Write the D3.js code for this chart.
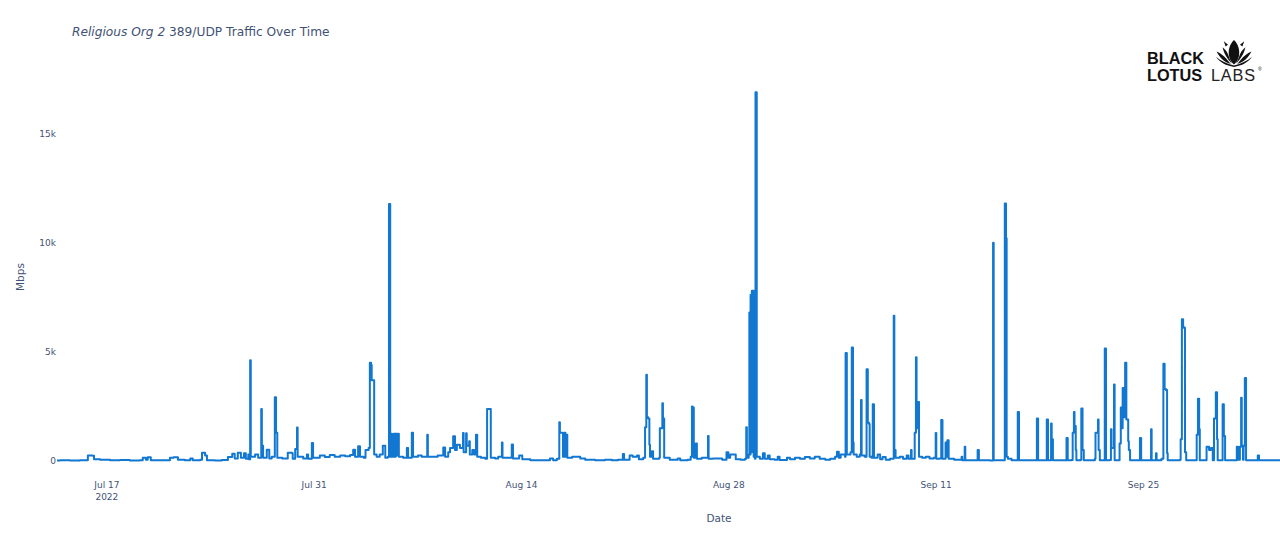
<!DOCTYPE html>
<html>
<head>
<meta charset="utf-8">
<script src="https://cdn.jsdelivr.net/npm/d3@7/dist/d3.min.js"></script>
<style>
  html, body { margin: 0; padding: 0; background: #fff; }
  svg { display: block; }
</style>
</head>
<body>
<svg id="chart" width="1280" height="539"></svg>
<script>
// ---- data (hour offsets from startTime, traffic in Mbps) ----
const startTime = Date.UTC(2022, 6, 13, 16);   // Jul 13 2022 16:00
const spanHours = 1982;
const hours = [
  0,5,21,37,49,50,58,60,70,86,102,118,134,139,144,147,152,167,183,189,196,207,216,220,232,235,240,243,256,267,277,284,288,293,298,303,306,310,311,313,314,321,326,331,332,334,340,344,348,353,355,357,365,374,381,382,386,389,390,399,405,407,413,415,426,434,442,450,459,467,475,480,483,488,491,497,500,505,507,509,510,512,514,518,523,528,532,536,538,540,541,543,546,548,549,551,553,554,561,567,569,575,577,585,591,600,601,609,617,626,629,634,637,642,645,648,653,658,659,663,664,668,669,673,676,679,681,687,694,697,702,703,710,715,721,722,729,737,739,749,754,767,783,799,804,810,814,815,819,820,822,824,825,827,835,841,848,856,872,888,899,909,917,919,928,933,940,943,950,953,955,956,958,960,961,964,966,976,977,981,982,984,993,1006,1010,1022,1027,1029,1030,1032,1035,1037,1045,1055,1056,1063,1071,1078,1085,1088,1091,1094,1099,1100,1108,1115,1117,1118,1121,1122,1123,1124,1125,1126,1127,1128,1129,1131,1132,1134,1139,1144,1147,1152,1155,1163,1168,1171,1183,1188,1196,1204,1212,1220,1228,1236,1245,1253,1261,1264,1267,1270,1275,1277,1278,1280,1283,1286,1288,1290,1291,1296,1301,1303,1304,1309,1312,1314,1316,1317,1320,1322,1324,1330,1334,1338,1343,1350,1356,1357,1359,1366,1371,1377,1380,1384,1385,1390,1392,1393,1395,1397,1402,1408,1414,1421,1424,1425,1430,1433,1435,1440,1441,1443,1445,1454,1466,1467,1471,1472,1482,1492,1494,1512,1517,1518,1528,1535,1536,1538,1539,1541,1547,1557,1559,1577,1588,1590,1603,1604,1606,1609,1611,1612,1614,1625,1636,1638,1644,1646,1648,1649,1651,1652,1659,1660,1662,1664,1674,1682,1683,1687,1688,1690,1697,1698,1700,1706,1708,1709,1713,1714,1721,1722,1724,1725,1727,1729,1731,1733,1736,1737,1739,1752,1755,1757,1771,1773,1774,1781,1782,1790,1793,1795,1797,1799,1800,1820,1821,1823,1825,1826,1828,1830,1846,1847,1849,1851,1852,1860,1863,1867,1870,1873,1875,1878,1880,1881,1888,1889,1891,1893,1911,1912,1914,1917,1919,1920,1922,1923,1925,1927,1928,1936,1946,1948,1949,1966,1982
];
const mbps = [
  20,30,20,40,30,250,240,80,60,30,50,20,40,150,60,170,40,30,150,170,60,40,120,40,60,380,250,40,20,50,180,330,120,380,150,350,100,300,80,4620,200,300,150,2380,700,150,520,120,200,2920,1300,150,120,380,350,100,550,1540,200,120,300,100,820,150,250,180,280,200,250,220,280,520,200,680,200,150,500,600,4500,4400,3700,3700,300,200,300,700,150,200,11780,200,1250,200,1250,200,1250,250,1250,200,150,600,150,1300,200,250,200,1200,200,200,250,620,200,400,600,1130,500,750,600,1280,400,1270,700,900,300,500,300,1200,200,150,100,2380,2380,150,120,200,850,150,150,760,120,250,80,40,30,120,40,100,1780,1300,1300,200,1300,200,1200,150,200,200,120,60,40,60,40,60,320,60,250,200,250,80,150,1550,3950,2000,1950,750,200,450,100,150,1500,2650,1950,150,60,120,40,60,200,2500,2450,150,800,100,150,1150,100,120,120,60,400,150,300,300,300,80,60,100,1550,150,300,6800,300,7600,400,7800,500,7800,200,100,16900,200,100,350,100,250,80,60,200,50,150,80,150,100,180,120,200,100,60,100,200,420,150,300,300,200,4950,300,300,400,5200,850,300,200,300,2800,250,200,4200,1750,1700,200,150,2600,150,300,80,180,60,100,6650,500,150,200,100,250,100,500,100,1300,4750,1500,2700,200,150,200,120,150,1280,100,120,1880,100,850,200,950,100,60,200,40,650,40,30,500,30,20,10000,40,40,40,11800,10200,200,100,30,2250,30,30,1950,30,30,1900,30,40,1720,1000,40,30,1050,30,50,1300,2250,1600,500,40,60,2400,500,40,30,100,1300,1900,500,40,40,5150,40,50,1450,600,3500,40,40,800,2450,1500,3350,2000,4500,1900,900,500,40,30,1050,30,40,1450,40,350,40,100,4450,3300,3250,350,40,60,1000,6500,6150,6100,400,40,40,1200,2850,1450,40,40,650,500,600,40,1950,3150,1000,40,40,2600,1150,40,40,650,60,650,2900,700,60,700,3800,40,40,40,250,40,40,30
];
const xTickDates = ["2022-07-17","2022-07-31","2022-08-14","2022-08-28","2022-09-11","2022-09-25"];
const yTickValues = [0, 5000, 10000, 15000];
const titleItalic = "Religious Org 2";
const titleRest = " 389/UDP Traffic Over Time";

// ---- drawing ----
const svg = d3.select("#chart");
const textColor = "#3f5275";
const lineColor = "#1177d1";
const fontFam = "'DejaVu Sans', Verdana, sans-serif";

const data = hours.map((h, i) => ({ t: new Date(startTime + h * 3600e3), v: mbps[i] }));

const x = d3.scaleUtc()
  .domain([new Date(startTime), new Date(startTime + spanHours * 3600e3)])
  .range([57, 1280]);
const y = d3.scaleLinear().domain([0, 15000]).range([461, 133.6]);

// line
svg.append("path")
  .datum(data)
  .attr("fill", "none")
  .attr("stroke", lineColor)
  .attr("stroke-width", 2)
  .attr("stroke-linejoin", "round")
  .attr("d", d3.line().curve(d3.curveStepAfter).x(d => x(d.t)).y(d => y(d.v)));

// x axis
const xAxis = d3.axisBottom(x)
  .tickValues(xTickDates.map(s => new Date(s + "T00:00:00Z")))
  .tickFormat(d3.utcFormat("%b %-d"))
  .tickSize(0)
  .tickPadding(0);
const gx = svg.append("g").attr("transform", "translate(0,482)").call(xAxis);
gx.select(".domain").remove();
gx.selectAll("text")
  .attr("font-family", fontFam).attr("font-size", 9).attr("fill", textColor)
  .attr("dy", "0.71em");
gx.selectAll(".tick").filter((d, i) => i === 0).select("text")
  .append("tspan").attr("x", 0).attr("dy", "1.25em").text("2022");

// y axis
const yAxis = d3.axisLeft(y)
  .tickValues(yTickValues)
  .tickFormat(d => d === 0 ? "0" : (d / 1000) + "k")
  .tickSize(0)
  .tickPadding(0);
const gy = svg.append("g").attr("transform", "translate(56,0)").call(yAxis);
gy.select(".domain").remove();
gy.selectAll("text").attr("font-family", fontFam).attr("font-size", 9).attr("fill", textColor);

// axis titles
svg.append("text").attr("x", 719).attr("y", 522).attr("text-anchor", "middle")
  .attr("font-family", fontFam).attr("font-size", 10.5).attr("fill", textColor).text("Date");
svg.append("text").attr("transform", "translate(24,277) rotate(-90)").attr("text-anchor", "middle")
  .attr("font-family", fontFam).attr("font-size", 10.5).attr("fill", textColor).text("Mbps");

// title
const title = svg.append("text").attr("x", 72).attr("y", 36)
  .attr("font-family", fontFam).attr("font-size", 12.2).attr("fill", textColor);
title.append("tspan").attr("font-style", "italic").text(titleItalic);
title.append("tspan").text(titleRest);

// logo
const logo = svg.append("g");
logo.append("text").attr("x", 1147).attr("y", 64)
  .attr("font-family", "'Liberation Sans', Arial, sans-serif").attr("font-weight", "bold")
  .attr("font-size", 16.3).attr("fill", "#111").text("BLACK");
logo.append("text").attr("x", 1147).attr("y", 81)
  .attr("font-family", "'Liberation Sans', Arial, sans-serif").attr("font-weight", "bold")
  .attr("font-size", 16.3).attr("fill", "#111").text("LOTUS");
logo.append("text").attr("x", 1211).attr("y", 81)
  .attr("font-family", "'Liberation Sans', Arial, sans-serif")
  .attr("font-size", 16.3).attr("letter-spacing", 0.8).attr("fill", "#222").text("LABS");
logo.append("text").attr("x", 1258).attr("y", 71)
  .attr("font-family", "'Liberation Sans', Arial, sans-serif")
  .attr("font-size", 5).attr("fill", "#222").text("®");
// lotus icon
const lg = logo.append("g").attr("transform", "translate(1234,40) scale(1.2)").attr("fill", "#111");
lg.append("path").attr("d", "M0,0 C4,4 5,9 4,14 C3,18 1,19.5 0,20.5 C-1,19.5 -3,18 -4,14 C-5,9 -4,4 0,0 Z");
lg.append("path").attr("d", "M-1.8,19.5 C-5.5,16 -8.5,11 -9.5,6 C-7,8 -5.2,10.5 -4.6,13 C-3.8,16 -2.5,18 -1.8,19.5 Z");
lg.append("path").attr("d", "M1.8,19.5 C5.5,16 8.5,11 9.5,6 C7,8 5.2,10.5 4.6,13 C3.8,16 2.5,18 1.8,19.5 Z");
lg.append("path").attr("d", "M-2.5,20 C-8,18.5 -12,14.5 -14.5,9.5 C-11,11 -8,13.5 -6,16 C-4.5,18 -3.5,19 -2.5,20 Z");
lg.append("path").attr("d", "M2.5,20 C8,18.5 12,14.5 14.5,9.5 C11,11 8,13.5 6,16 C4.5,18 3.5,19 2.5,20 Z");
lg.append("path").attr("d", "M-15,14 C-11,17.5 -6,19.8 0,21.2 C6,19.8 11,17.5 15,14 C12,18.5 6.5,21.6 0,22.4 C-6.5,21.6 -12,18.5 -15,14 Z");
lg.append("path").attr("d", "M-7,5.5 L-8.5,1 L-5,4 Z M7,5.5 L8.5,1 L5,4 Z");
</script>
</body>
</html>
